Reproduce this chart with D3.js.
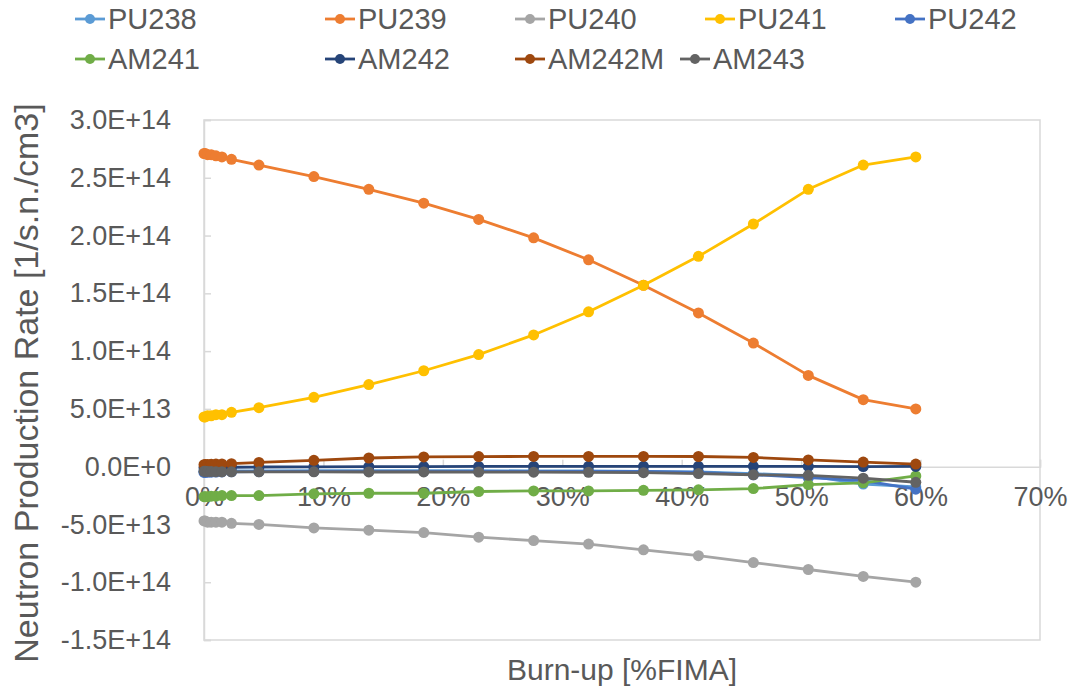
<!DOCTYPE html>
<html>
<head>
<meta charset="utf-8">
<script src="https://cdn.jsdelivr.net/npm/d3@7"></script>
<style>
  html, body { margin: 0; padding: 0; background: #fff; }
  svg text { font-family: "Liberation Sans", Arial, sans-serif; fill: #595959; }
</style>
</head>
<body>
<svg id="chart" width="1075" height="691"></svg>
<script>
// Burn-up steps (fraction FIMA)
const burnup = [0, 0.001, 0.003, 0.006, 0.010, 0.015, 0.023, 0.046, 0.092, 0.138,
                0.184, 0.230, 0.276, 0.322, 0.368, 0.414, 0.460, 0.506, 0.552, 0.596];

// Neutron production rate per nuclide, in units of 1E14 [1/s.n./cm3]
const pu238 = [-0.040, -0.040, -0.040, -0.039, -0.038, -0.038, -0.037, -0.036, -0.035, -0.035,
               -0.035, -0.035, -0.036, -0.037, -0.040, -0.045, -0.060, -0.080, -0.150, -0.175];
const pu239 = [2.71, 2.71, 2.70, 2.70, 2.69, 2.68, 2.66, 2.61, 2.51, 2.40,
               2.28, 2.14, 1.98, 1.79, 1.57, 1.33, 1.07, 0.79, 0.58, 0.50];
const pu240 = [-0.47, -0.47, -0.48, -0.48, -0.48, -0.48, -0.49, -0.50, -0.53, -0.55,
               -0.57, -0.61, -0.64, -0.67, -0.72, -0.77, -0.83, -0.89, -0.95, -1.00];
const pu241 = [0.43, 0.43, 0.44, 0.44, 0.45, 0.45, 0.47, 0.51, 0.60, 0.71,
               0.83, 0.97, 1.14, 1.34, 1.57, 1.82, 2.10, 2.40, 2.61, 2.68];
const pu242 = [-0.050, -0.050, -0.049, -0.048, -0.047, -0.046, -0.045, -0.043, -0.041, -0.040,
               -0.040, -0.040, -0.040, -0.040, -0.042, -0.050, -0.070, -0.095, -0.120, -0.195];
const am241 = [-0.26, -0.26, -0.26, -0.255, -0.255, -0.25, -0.25, -0.25, -0.235, -0.23,
               -0.23, -0.215, -0.21, -0.21, -0.205, -0.20, -0.19, -0.155, -0.14, -0.08];
const am242 = [-0.010, -0.010, -0.010, -0.008, -0.007, -0.006, -0.005, -0.003, -0.001, 0.000,
               0.001, 0.002, 0.002, 0.003, 0.003, 0.003, 0.003, 0.002, 0.001, 0.002];
const am242m = [0.017, 0.018, 0.019, 0.020, 0.022, 0.024, 0.026, 0.037, 0.055, 0.075,
                0.084, 0.087, 0.089, 0.089, 0.089, 0.088, 0.080, 0.058, 0.040, 0.022];
const am243 = [-0.040, -0.040, -0.041, -0.042, -0.043, -0.044, -0.045, -0.045, -0.045, -0.046,
               -0.046, -0.047, -0.048, -0.049, -0.052, -0.060, -0.070, -0.075, -0.100, -0.135];

const seriesNames = ["PU238", "PU239", "PU240", "PU241", "PU242", "AM241", "AM242", "AM242M", "AM243"];
const seriesValues = [pu238, pu239, pu240, pu241, pu242, am241, am242, am242m, am243];
const seriesColors = ["#5B9BD5", "#ED7D31", "#A5A5A5", "#FFC000", "#4472C4",
                      "#70AD47", "#264478", "#9E480E", "#636363"];

const xTicks = [0, 0.1, 0.2, 0.3, 0.4, 0.5, 0.6, 0.7];
const yTicks = [3.0, 2.5, 2.0, 1.5, 1.0, 0.5, 0.0, -0.5, -1.0, -1.5];
const yTickLabels = ["3.0E+14", "2.5E+14", "2.0E+14", "1.5E+14", "1.0E+14",
                     "5.0E+13", "0.0E+0", "-5.0E+13", "-1.0E+14", "-1.5E+14"];

const xTitle = "Burn-up [%FIMA]";
const yTitle = "Neutron Production Rate [1/s.n./cm3]";

const svg = d3.select("#chart");
const plot = { left: 204, right: 1040, top: 120, bottom: 640 };

const x = d3.scaleLinear().domain([0, 0.7]).range([plot.left, plot.right]);
const y = d3.scaleLinear().domain([-1.5, 3.0]).range([plot.bottom, plot.top]);

const axisColor = "#D9D9D9";

// plot frame
svg.append("rect")
  .attr("x", plot.left).attr("y", plot.top)
  .attr("width", plot.right - plot.left).attr("height", plot.bottom - plot.top)
  .attr("fill", "none").attr("stroke", axisColor).attr("stroke-width", 1.5);

// vertical axis with inside ticks
const yAxis = d3.axisLeft(y)
  .tickValues(yTicks)
  .tickSize(-7)
  .tickPadding(33)
  .tickFormat((d, i) => yTickLabels[i]);
const gy = svg.append("g").attr("transform", `translate(${plot.left},0)`).call(yAxis);
gy.select(".domain").attr("stroke", axisColor).attr("stroke-width", 1.5);
gy.selectAll(".tick line").attr("stroke", axisColor).attr("stroke-width", 1.5);
gy.selectAll(".tick text")
  .attr("font-size", 27).attr("fill", "#595959")
  .style("font-family", "'Liberation Sans', Arial, sans-serif");

// horizontal axis crossing at zero, inside ticks, labels below
const xAxis = d3.axisBottom(x)
  .tickValues(xTicks)
  .tickSize(-7)
  .tickPadding(20)
  .tickFormat(d3.format(".0%"));
const gx = svg.append("g").attr("transform", `translate(0,${y(0)})`).call(xAxis);
gx.select(".domain").attr("stroke", axisColor).attr("stroke-width", 1.5);
gx.selectAll(".tick line").attr("stroke", axisColor).attr("stroke-width", 1.5);
gx.selectAll(".tick text")
  .attr("font-size", 27).attr("fill", "#595959")
  .style("font-family", "'Liberation Sans', Arial, sans-serif");

// axis titles
svg.append("text")
  .attr("x", (plot.left + plot.right) / 2).attr("y", 680)
  .attr("text-anchor", "middle").attr("font-size", 30)
  .text(xTitle);

svg.append("text")
  .attr("transform", `translate(38,${(plot.top + plot.bottom) / 2 + 3}) rotate(-90)`)
  .attr("text-anchor", "middle").attr("font-size", 34)
  .text(yTitle);

// series lines and markers
const line = d3.line().x(d => x(d[0])).y(d => y(d[1]));
seriesValues.forEach((vals, i) => {
  const pts = burnup.map((b, j) => [b, vals[j]]);
  const g = svg.append("g");
  g.append("path")
    .attr("d", line(pts))
    .attr("fill", "none")
    .attr("stroke", seriesColors[i])
    .attr("stroke-width", 2.8)
    .attr("stroke-linejoin", "round");
  g.selectAll("circle").data(pts).join("circle")
    .attr("cx", d => x(d[0])).attr("cy", d => y(d[1]))
    .attr("r", 5.5)
    .attr("fill", seriesColors[i]);
});

// legend in two rows
const legendRows = [[0, 1, 2, 3, 4], [5, 6, 7, 8]];
const legendX = [[75, 325, 515, 705, 895], [75, 325, 515, 680]];
const legendY = [19, 59];
legendRows.forEach((row, r) => {
  row.forEach((si, k) => {
    const g = svg.append("g").attr("transform", `translate(${legendX[r][k]},${legendY[r]})`);
    g.append("line").attr("x1", 0).attr("x2", 30).attr("y1", 0).attr("y2", 0)
      .attr("stroke", seriesColors[si]).attr("stroke-width", 2.8);
    g.append("circle").attr("cx", 15).attr("cy", 0).attr("r", 5).attr("fill", seriesColors[si]);
    g.append("text").attr("x", 33).attr("y", 0).attr("dy", "0.36em")
      .attr("font-size", 29).text(seriesNames[si]);
  });
});
</script>
</body>
</html>
